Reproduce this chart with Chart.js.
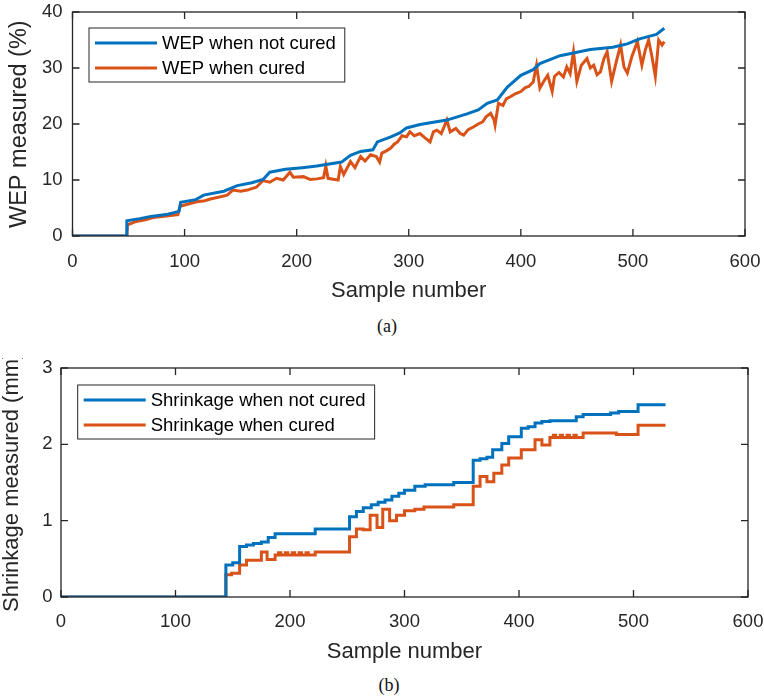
<!DOCTYPE html>
<html>
<head>
<meta charset="utf-8">
<script src="https://cdn.jsdelivr.net/npm/chart.js@4.4.0/dist/chart.umd.min.js"></script>
<style>
    body { margin: 0; background: #fff; width: 764px; height: 699px; position: relative; overflow: hidden; }
    canvas { position: absolute; left: 0; }
    #wep-chart { top: 0; }
    #shrink-chart { top: 358px; }
    .caption { position: absolute; width: 764px; text-align: center; font-family: 'Liberation Serif', 'Times New Roman', serif; font-size: 18px; line-height: 20px; color: #111; }
</style>
</head>
<body>
<canvas id="wep-chart" width="764" height="310"></canvas>
<div class="caption" style="top: 316px; left: 5px;">(a)</div>
<canvas id="shrink-chart" width="764" height="310"></canvas>
<div class="caption" style="top: 675px; left: 7px;">(b)</div>
<script>
// [sample, value] pairs
const wepNotCured = [[0,0],[48,0],[48.5,2.7],[60,3.1],[70,3.5],[85,3.9],[95,4.4],[96.5,6.0],[110,6.5],[117,7.3],[135,8.0],[147,9.0],[160,9.5],[170,10.1],[176,11.4],[190,11.9],[205,12.2],[218,12.5],[240,13.2],[248,14.4],[257,15.1],[268,15.4],[272,16.8],[284,17.7],[292,18.4],[298,19.3],[310,19.9],[334,20.7],[352,21.8],[362,22.5],[370,23.7],[379,24.3],[388,26.6],[400,28.7],[411,29.7],[417,30.8],[435,32.2],[462,33.3],[482,33.7],[495,34.3],[506,35.2],[521,36.0],[528,37.1]];

const wepCured = [[0,0],[48.5,0],[49,2.0],[57,2.6],[65,2.9],[72,3.3],[80,3.5],[94,3.8],[96,5.3],[105,5.8],[111,6.1],[118,6.3],[123,6.6],[132,7.0],[138,7.3],[143,8.2],[150,8.0],[156,8.2],[164,8.7],[170,9.9],[176,9.6],[182,10.3],[188,10.0],[194,11.4],[197,10.5],[206,10.6],[212,10.1],[218,10.2],[224,10.4],[226,12.5],[228,10.3],[234,10.1],[237,10.0],[239,12.4],[242,11.0],[248,13.3],[252,12.2],[257,14.2],[261,13.4],[266,14.5],[271,14.2],[274,13.2],[276,14.8],[280,15.2],[284,15.7],[287,16.4],[290,16.8],[294,17.9],[298,17.7],[301,18.6],[305,17.9],[310,18.3],[314,17.6],[319,16.8],[322,18.6],[325,18.9],[329,18.3],[334,20.7],[337,18.6],[342,19.2],[346,18.3],[349,18.0],[353,19.0],[358,19.5],[362,20.0],[366,20.4],[369,21.3],[373,21.9],[376,20.8],[377,19.8],[380,23.7],[384,23.3],[387,24.5],[391,24.9],[395,25.4],[400,25.8],[404,26.5],[407,26.7],[411,27.5],[414,30.5],[417,26.4],[421,27.8],[424,28.7],[428,25.8],[430,28.5],[434,29.2],[438,28.4],[441,30.2],[444,29.0],[447,32.9],[450,27.6],[454,30.5],[459,31.7],[462,30.0],[465,30.5],[468,28.8],[471,29.3],[474,31.6],[477,32.9],[481,27.6],[485,31.0],[489,34.1],[492,30.2],[495,29.1],[499,32.0],[504,34.7],[508,30.5],[511,33.2],[514,35.0],[517,32.0],[520,28.5],[523,35.0],[526,34.1],[528,34.7]];

// shrinkage is stepped: value holds from its sample onwards
const shrinkNotCured = [[0,0],[144,0.42],[150,0.45],[156,0.66],[162,0.68],[168,0.70],[175,0.72],[181,0.78],[187,0.83],[222,0.89],[252,1.05],[258,1.12],[264,1.17],[271,1.21],[277,1.24],[283,1.27],[289,1.32],[295,1.36],[300,1.40],[309,1.45],[318,1.47],[343,1.50],[360,1.79],[366,1.81],[372,1.83],[377,1.93],[385,2.01],[391,2.10],[402,2.21],[408,2.23],[414,2.28],[420,2.30],[427,2.31],[450,2.36],[456,2.39],[480,2.41],[487,2.43],[504,2.52],[528,2.52]];

const shrinkCured = [[0,0],[144,0.29],[149,0.31],[156,0.42],[162,0.48],[175,0.59],[180,0.49],[187,0.55],[190,0.58],[192,0.55],[196,0.58],[198,0.55],[202,0.58],[204,0.55],[208,0.58],[210,0.55],[214,0.58],[216,0.55],[222,0.59],[252,0.79],[258,0.89],[264,0.88],[270,1.07],[276,0.91],[281,1.15],[287,1.00],[293,1.07],[300,1.13],[309,1.15],[317,1.18],[343,1.21],[360,1.45],[366,1.58],[372,1.51],[378,1.62],[385,1.73],[391,1.82],[402,1.93],[414,2.06],[420,1.99],[427,2.09],[430,2.12],[432,2.09],[436,2.12],[438,2.09],[442,2.12],[444,2.09],[448,2.12],[450,2.09],[456,2.15],[485,2.13],[504,2.25],[528,2.25]];

const xTicks = { min: 0, max: 600, step: 100 };
const wepTicks = { min: 0, max: 40, step: 10 };
const shrinkTicks = { min: 0, max: 3, step: 1 };

const blue = '#0072BD';
const orange = '#D95319';
const axisColor = '#262626';
const fontFamily = "'Liberation Sans', Arial, Helvetica, sans-serif";

function toPoints(pairs) {
    return pairs.map(p => ({ x: p[0], y: p[1] }));
}

// box, inward ticks, rotated y title and boxed legend, matlab style
const matlabAxes = {
    id: 'matlabAxes',
    afterDatasetsDraw(chart, args, opts) {
        const { ctx, chartArea: a, scales } = chart;
        ctx.save();
        ctx.strokeStyle = axisColor;
        ctx.lineWidth = 1.3;
        ctx.strokeRect(a.left, a.top, a.right - a.left, a.bottom - a.top);
        ctx.beginPath();
        scales.x.ticks.forEach(t => {
            const px = scales.x.getPixelForValue(t.value);
            ctx.moveTo(px, a.bottom); ctx.lineTo(px, a.bottom - 7);
            ctx.moveTo(px, a.top); ctx.lineTo(px, a.top + 7);
        });
        scales.y.ticks.forEach(t => {
            const py = scales.y.getPixelForValue(t.value);
            ctx.moveTo(a.left, py); ctx.lineTo(a.left + 7, py);
            ctx.moveTo(a.right, py); ctx.lineTo(a.right - 7, py);
        });
        ctx.stroke();

        // y axis title, text starts at yTitleBottom (canvas coords) and runs upwards
        ctx.save();
        ctx.translate(opts.yTitleX, opts.yTitleBottom);
        ctx.rotate(-Math.PI / 2);
        ctx.font = opts.yTitleSize + 'px ' + fontFamily;
        ctx.fillStyle = axisColor;
        ctx.textAlign = 'left';
        ctx.textBaseline = 'middle';
        ctx.fillText(opts.yTitle, 0, 0);
        ctx.restore();

        // legend
        ctx.font = '18.5px ' + fontFamily;
        const sets = chart.data.datasets;
        const textW = Math.max(...sets.map(d => ctx.measureText(d.label).width));
        const bx = a.left + opts.legendX;
        const by = a.top + opts.legendY;
        ctx.fillStyle = '#fff';
        ctx.fillRect(bx, by, 73 + textW + 9, 54);
        ctx.strokeStyle = axisColor;
        ctx.lineWidth = 1;
        ctx.strokeRect(bx, by, 73 + textW + 9, 54);
        sets.forEach((d, i) => {
            const y = by + 15 + i * 25;
            ctx.strokeStyle = d.borderColor;
            ctx.lineWidth = 3;
            ctx.beginPath();
            ctx.moveTo(bx + 6, y);
            ctx.lineTo(bx + 68, y);
            ctx.stroke();
            ctx.fillStyle = '#000';
            ctx.textAlign = 'left';
            ctx.textBaseline = 'middle';
            ctx.fillText(d.label, bx + 73, y + 1);
        });
        ctx.restore();
    }
};

function makeChart(id, datasets, yRange, cfg) {
    const ctx = document.getElementById(id);
    return new Chart(ctx, {
        type: 'line',
        data: { datasets: datasets },
        plugins: [matlabAxes],
        options: {
            responsive: false,
            animation: false,
            devicePixelRatio: 1,
            layout: { padding: { top: cfg.padTop, right: cfg.padRight, left: 0, bottom: 0 } },
            elements: { point: { radius: 0 }, line: { tension: 0, borderWidth: 3 } },
            plugins: {
                legend: { display: false },
                tooltip: { enabled: false },
                matlabAxes: cfg.axes
            },
            scales: {
                x: {
                    type: 'linear',
                    min: xTicks.min,
                    max: xTicks.max,
                    ticks: { stepSize: xTicks.step, padding: cfg.xTickPad, color: axisColor, maxRotation: 0, font: { family: fontFamily, size: 18.5 } },
                    grid: { display: false, drawTicks: false },
                    border: { display: false },
                    title: { display: true, text: 'Sample number', color: axisColor, font: { family: fontFamily, size: 22 }, padding: { top: 0, bottom: cfg.xTitlePad } },
                    afterFit: scale => {
                        scale.height = cfg.xHeight;
                        scale.paddingLeft = 0;
                        scale.paddingRight = 0;
                    }
                },
                y: {
                    type: 'linear',
                    min: yRange.min,
                    max: yRange.max,
                    ticks: { stepSize: yRange.step, padding: cfg.yTickPad, color: axisColor, font: { family: fontFamily, size: 18.5 } },
                    grid: { display: false, drawTicks: false },
                    border: { display: false },
                    afterFit: scale => {
                        scale.width = cfg.yWidth;
                        scale.paddingTop = 0;
                        scale.paddingBottom = 0;
                    }
                }
            }
        }
    });
}

makeChart('wep-chart', [
    { label: 'WEP when not cured', data: toPoints(wepNotCured), borderColor: blue, backgroundColor: blue },
    { label: 'WEP when cured', data: toPoints(wepCured), borderColor: orange, backgroundColor: orange }
], wepTicks, {
    padTop: 12, padRight: 19, yWidth: 72.5, xHeight: 74, xTickPad: 15, xTitlePad: 5.8, yTickPad: 10,
    axes: { yTitle: 'WEP measured (%)', yTitleX: 20, yTitleBottom: 228, yTitleSize: 23.5, legendX: 16.5, legendY: 16 }
});

makeChart('shrink-chart', [
    { label: 'Shrinkage when not cured', data: toPoints(shrinkNotCured), borderColor: blue, backgroundColor: blue, stepped: true },
    { label: 'Shrinkage when cured', data: toPoints(shrinkCured), borderColor: orange, backgroundColor: orange, stepped: true }
], shrinkTicks, {
    padTop: 10, padRight: 16, yWidth: 61, xHeight: 71, xTickPad: 14, xTitlePad: 3.3, yTickPad: 8.5,
    axes: { yTitle: 'Shrinkage measured (mm)', yTitleX: 12, yTitleBottom: 254, yTitleSize: 22, legendX: 16.7, legendY: 17 }
});
</script>
</body>
</html>
